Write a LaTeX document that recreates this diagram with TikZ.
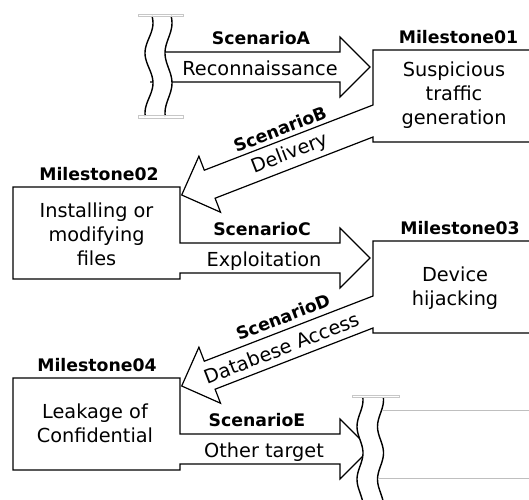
\documentclass[tikz,border=0pt]{standalone}
\usepackage{fontspec}
\setmainfont{DejaVu Sans}
\begin{document}
\begin{tikzpicture}[x=1pt,y=-1pt]
\tikzset{
  outline/.style={draw=black, line width=1.2pt, line join=miter},
  breakline/.style={draw=black, line width=1.4pt},
  capmark/.style={draw=black!22, line width=0.7pt},
  faint/.style={draw=black!25, line width=1pt},
  tag/.style={font=\fontsize{17.3}{20}\selectfont\bfseries, inner sep=0pt},
  body/.style={font=\fontsize{19.3}{24}\selectfont, align=center, inner sep=0pt},
}
\fill[white] (0,0) rectangle (529,499);
\useasboundingbox (0,0) rectangle (529,499);

% ---- scenario A: arrow coming out of the break on the upper left
\draw[outline] (150,52) -- (340,52) -- (340,37) -- (370,67) -- (340,97) -- (340,82) -- (150,82);

% ---- milestone 01 with arrow B leaving it towards milestone 02
\draw[outline] (540,142) -- (373,142) -- (373,137) -- (215.1,198.2) -- (220.5,212.2)
  -- (181.7,195) -- (198.9,156.2) -- (204.3,170.2) -- (373,105) -- (373,50) -- (540,50);

% ---- milestone 02 with arrow C
\draw[outline] (13,187) -- (180,187) -- (180,243) -- (340,243) -- (340,228) -- (370,258)
  -- (340,288) -- (340,273) -- (180,273) -- (180,279) -- (13,279) -- cycle;

% ---- milestone 03 with arrow D leaving it towards milestone 04
\draw[outline] (540,333) -- (373,333) -- (373,328) -- (215.1,389.2) -- (220.5,403.2)
  -- (181.7,386) -- (198.9,347.2) -- (204.3,361.2) -- (373,296) -- (373,241) -- (540,241);

% ---- milestone 04 with arrow E running into the break on the lower right
\draw[outline] (13,378) -- (180,378) -- (180,434) -- (340,434) -- (340,419) -- (370,449)
  -- (340,479) -- (340,464) -- (180,464) -- (180,470) -- (13,470) -- cycle;

% ---- break marks (upper left)
\fill[white] plot[domain=16:116,samples=41] ({149+4*cos(6*(\x-23))},\x)
  -- plot[domain=116:16,samples=41] ({168.5+3.5*cos(6*(\x-23))},\x) -- cycle;
\draw[breakline] plot[smooth,domain=16:116,samples=41] ({149+4*cos(6*(\x-23))},\x);
\draw[breakline] plot[smooth,domain=16:116,samples=41] ({168.5+3.5*cos(6*(\x-23))},\x);
\draw[capmark] (138,14) rectangle (183,16.5);
\draw[capmark] (138,115.5) rectangle (183,118);

% ---- break marks (lower right) and the next, faint box
\fill[white] plot[domain=398:505,samples=41] ({360+3*cos(6.8*(\x-400))},\x)
  -- plot[domain=505:398,samples=41] ({380.5+3*cos(6.8*(\x-400))},\x) -- cycle;
\draw[breakline] plot[smooth,domain=398:505,samples=41] ({360+3*cos(6.8*(\x-400))},\x);
\draw[breakline] plot[smooth,domain=398:505,samples=41] ({380.5+3*cos(6.8*(\x-400))},\x);
\draw[capmark] (352,395) rectangle (399,397.5);
\coordinate (nextTop) at (382.5,410);
\coordinate (nextBot) at (377.5,478);
\draw[faint] (nextTop) -- (529,410);
\draw[faint] (nextBot) -- (529,478);

% ---- milestone titles and contents
\node[tag, anchor=base] (t1) at (458.5,43) {Milestone01};
\node[body] (m1) at (454,95) {Suspicious\\traffic\\generation};
\node[tag, anchor=base] (t2) at (99,180) {Milestone02};
\node[body] (m2) at (96.5,234) {Installing or\\modifying\\files};
\node[tag, anchor=base] (t3) at (460,234) {Milestone03};
\node[body] (m3) at (455,288) {Device\\hijacking};
\node[tag, anchor=base] (t4) at (97,371) {Milestone04};
\node[body] (m4) at (95,423) {Leakage of\\Confidential};

% ---- scenario labels
\node[tag, anchor=base] (sA) at (261,44) {ScenarioA};
\node[body, anchor=base] (aA) at (260,75) {Reconnaissance};
\node[tag, rotate=21.15] (sB) at (280,129) {ScenarioB};
\node[body, rotate=21.15] (aB) at (290,154) {Delivery};
\node[tag, anchor=base] (sC) at (262,235) {ScenarioC};
\node[body, anchor=base] (aC) at (264,266) {Exploitation};
\node[tag, rotate=21.15] (sD) at (283,317) {ScenarioD};
\node[body, rotate=21.15] (aD) at (282,348) {Databese Access};
\node[tag, anchor=base] (sE) at (257,426) {ScenarioE};
\node[body, anchor=base] (aE) at (264,457) {Other target};
\end{tikzpicture}
\end{document}
